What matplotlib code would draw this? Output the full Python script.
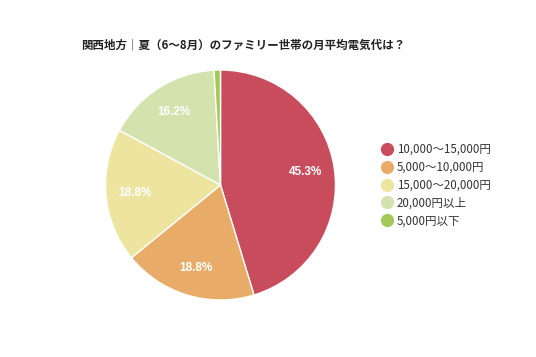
import matplotlib
matplotlib.use('Agg')
from matplotlib import pyplot as plt
from matplotlib.lines import Line2D
import numpy as np

plt.rcParams['font.family'] = ['Noto Sans CJK JP', 'DejaVu Sans']

# Data
title = '関西地方｜夏（6〜8月）のファミリー世帯の月平均電気代は？'
labels = ['10,000〜15,000円', '5,000〜10,000円', '15,000〜20,000円', '20,000円以上', '5,000円以下']
values = [45.3, 18.8, 18.8, 16.2, 0.9]
colors = ['#C94C5D', '#E8AC68', '#EDE49F', '#D4E2AD', '#A5C85B']

W, H = 536, 357
fig = plt.figure(figsize=(W / 100, H / 100), dpi=100)

# pie axes: center (220.5, 185), radius ~115 px
cx, cy, r = 220.5, 185, 115
ax = fig.add_axes([(cx - r) / W, 1 - (cy + r) / H, 2 * r / W, 2 * r / H])
wedges, _ = ax.pie(values, colors=colors, startangle=90, counterclock=False,
                   radius=1, wedgeprops=dict(edgecolor='white', linewidth=1))
ax.set_xlim(-1, 1)
ax.set_ylim(-1, 1)
ax.set_aspect('auto')
ax.axis('off')

# percent labels inside slices
ang = 90
for v in values:
    mid = ang - v / 100 * 360 / 2
    ang -= v / 100 * 360
    if v < 5:
        continue
    t = np.deg2rad(mid)
    ax.text(0.75 * np.cos(t), 0.75 * np.sin(t), '{:.1f}%'.format(v),
            ha='center', va='center', color='white', fontsize=8.5,
            fontweight='bold', family=['Liberation Sans', 'DejaVu Sans'])

fig.text(81 / W, 1 - 45 / H, title, fontsize=8.3, fontweight='bold',
         ha='left', va='center', color='#222222')

# legend
handles = [Line2D([], [], marker='o', linestyle='none', markersize=8.5,
                  markerfacecolor=c, markeredgecolor=c) for c in colors]
fig.legend(handles, labels, loc='upper left', bbox_to_anchor=(380 / W, 1 - 143 / H),
           frameon=False, fontsize=8.3, handletextpad=0.25, labelspacing=0.42,
           handlelength=1.2, borderaxespad=0, borderpad=0, labelcolor='#333333')

fig.savefig('out.png', dpi=100, facecolor='white')
